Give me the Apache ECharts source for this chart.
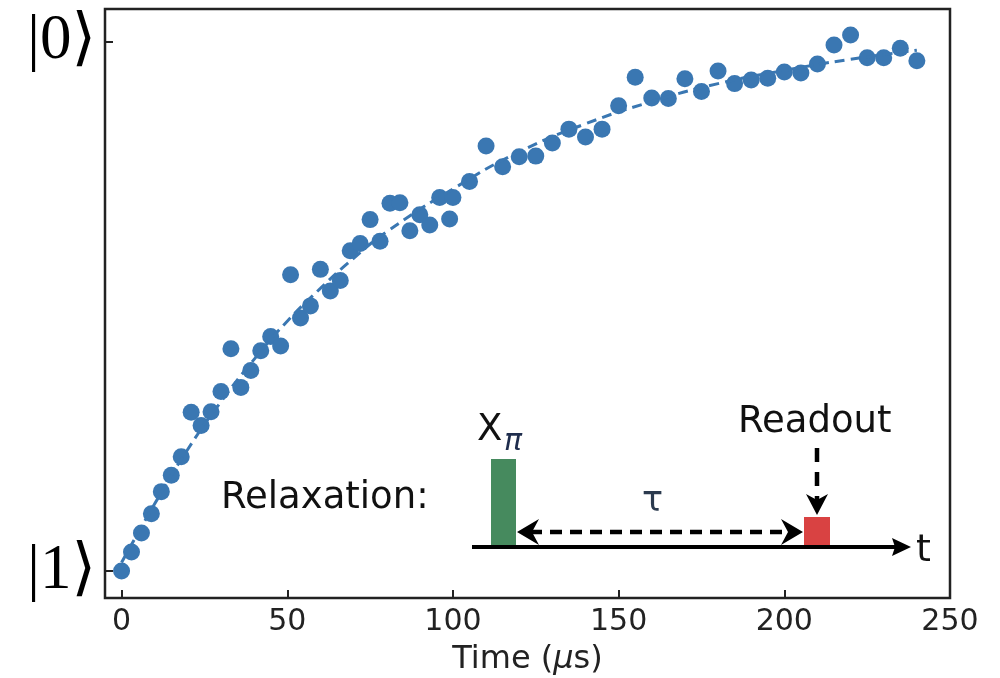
<!DOCTYPE html>
<html>
<head>
<meta charset="utf-8">
<script src="https://cdn.jsdelivr.net/npm/echarts@6/dist/echarts.min.js"></script>
<style>
  html, body { margin: 0; padding: 0; background: #fff; }
  #chart { width: 1000px; height: 678px; }
</style>
</head>
<body>
<div id="chart"></div>
<script>
"use strict";

// measured points (time in µs, population: 0 = |1>, 1 = |0>)
const timeUs = [
  0, 3, 6, 9, 12, 15, 18, 21, 24, 27, 30, 33, 36, 39, 42, 45, 48, 51, 54, 57,
  60, 63, 66, 69, 72, 75, 78, 81, 84, 87, 90, 93, 96, 99,
  100, 105, 110, 115, 120, 125, 130, 135, 140, 145, 150, 155, 160, 165, 170,
  175, 180, 185, 190, 195, 200, 205, 210, 215, 220, 225, 230, 235, 240
];
const population = [
  0.000, 0.036, 0.072, 0.108, 0.150, 0.181, 0.216, 0.300, 0.275, 0.301,
  0.339, 0.420, 0.347, 0.379, 0.416, 0.443, 0.425, 0.560, 0.478, 0.501,
  0.570, 0.529, 0.549, 0.605, 0.619, 0.664, 0.623, 0.695, 0.696, 0.643,
  0.673, 0.654, 0.706, 0.665,
  0.706, 0.736, 0.803, 0.764, 0.783, 0.784, 0.809, 0.835, 0.820, 0.835,
  0.879, 0.933, 0.894, 0.893, 0.930, 0.906, 0.945, 0.921, 0.928, 0.931,
  0.943, 0.941, 0.958, 0.994, 1.013, 0.970, 0.970, 0.988, 0.964
];

// dashed fit curve
const fitTime = [0, 10, 20, 30, 40, 50, 60, 70, 80, 100, 120, 140, 160, 180, 200, 220, 240];
const fitValue = [0.016, 0.127, 0.230, 0.320, 0.400, 0.472, 0.534, 0.591, 0.641, 0.722,
  0.792, 0.845, 0.887, 0.921, 0.946, 0.967, 0.984];

const xTicks = [0, 50, 100, 150, 200, 250];
const yTicks = [0, 1];
const yTickLabels = { 0: "|1\u27E9", 1: "|0\u27E9" };

const blue = "#3a77b2";
const ink = "#222";

const chart = echarts.init(document.getElementById("chart"), null, { renderer: "canvas" });

const sans = "DejaVu Sans";

/** @type {echarts.EChartsOption} */
const options = {
  backgroundColor: "#fff",
  animation: false,
  grid: {
    left: 105, right: 50, top: 9, bottom: 80,
    outerBoundsMode: "none",
    show: true, borderColor: ink, borderWidth: 2.5, backgroundColor: "transparent"
  },
  xAxis: {
    type: "value",
    min: -5, max: 250,
    splitLine: { show: false },
    axisLine: { show: false, onZero: false },
    axisTick: {
      show: true, inside: true, length: 8, customValues: xTicks,
      lineStyle: { color: ink, width: 2 }
    },
    axisLabel: {
      customValues: xTicks, fontFamily: sans, fontSize: 30, color: ink, margin: 9,
      showMaxLabel: true
    },
    name: "{n|Time (}{m|\u03BC}{n|s)}",
    nameLocation: "middle",
    nameGap: 46,
    nameTextStyle: {
      rich: {
        n: { fontFamily: sans, fontSize: 32, color: ink },
        m: { fontFamily: sans, fontSize: 32, color: ink, fontStyle: "italic" }
      }
    }
  },
  yAxis: {
    type: "value",
    min: -0.051, max: 1.062,
    splitLine: { show: false },
    axisLine: { show: false, onZero: false },
    axisTick: {
      show: true, inside: true, length: 8, customValues: yTicks,
      lineStyle: { color: ink, width: 2 }
    },
    axisLabel: {
      customValues: yTicks,
      formatter: (v) => yTickLabels[Math.round(v)],
      fontFamily: "Liberation Serif, DejaVu Serif, serif",
      fontSize: 63, color: "#000", margin: 9,
      padding: [12, 0, 0, 0]
    }
  },
  series: [
    {
      type: "scatter",
      data: timeUs.map((t, i) => [t, population[i]]),
      symbolSize: 17,
      itemStyle: { color: blue, opacity: 1 },
      z: 2
    },
    {
      type: "line",
      data: fitTime.map((t, i) => [t, fitValue[i]]),
      smooth: true,
      showSymbol: false,
      lineStyle: { color: blue, width: 3, type: [10, 6] },
      z: 3
    }
  ],
  graphic: [
    {
      type: "text", left: 221, top: 480,
      style: { text: "Relaxation:", font: "37px DejaVu Sans", fill: "#111" }
    },
    // pulse sequence sketch
    {
      type: "rect", shape: { x: 491, y: 459, width: 25, height: 88 },
      style: { fill: "#468a5e" }
    },
    {
      type: "rect", shape: { x: 804, y: 517, width: 26, height: 30 },
      style: { fill: "#d94242" }
    },
    {
      type: "line", shape: { x1: 472, y1: 547, x2: 896, y2: 547 },
      style: { stroke: "#000", lineWidth: 4 }
    },
    {
      type: "polygon", shape: { points: [[911, 547], [892, 538], [895, 547], [892, 556]] },
      style: { fill: "#000" }
    },
    {
      type: "line", shape: { x1: 530, y1: 532, x2: 792, y2: 532 },
      style: { stroke: "#000", lineWidth: 4.5, lineDash: [12, 8] }
    },
    {
      type: "polygon", shape: { points: [[517, 532], [539, 519], [532, 532], [539, 545]] },
      style: { fill: "#000" }
    },
    {
      type: "polygon", shape: { points: [[803, 532], [781, 519], [788, 532], [781, 545]] },
      style: { fill: "#000" }
    },
    {
      type: "line", shape: { x1: 817, y1: 448, x2: 817, y2: 500 },
      style: { stroke: "#000", lineWidth: 4.5, lineDash: [14, 10] }
    },
    {
      type: "polygon", shape: { points: [[817, 515], [806, 494], [817, 500], [828, 494]] },
      style: { fill: "#000" }
    },
    {
      type: "text", left: 642, top: 484,
      style: { text: "\u03C4", font: "35px DejaVu Sans", fill: "#2b3a4e" }
    },
    {
      type: "text", left: 477, top: 412,
      style: { text: "X", font: "37px DejaVu Sans", fill: "#111" }
    },
    {
      type: "text", left: 504, top: 427,
      style: { text: "\u03C0", font: "italic 30px DejaVu Sans", fill: "#1f2d4d" }
    },
    {
      type: "text", left: 738, top: 404,
      style: { text: "Readout", font: "37px DejaVu Sans", fill: "#111" }
    },
    {
      type: "text", left: 916, top: 532,
      style: { text: "t", font: "38px DejaVu Sans", fill: "#111" }
    }
  ]
};

chart.setOption(options);
</script>
</body>
</html>
